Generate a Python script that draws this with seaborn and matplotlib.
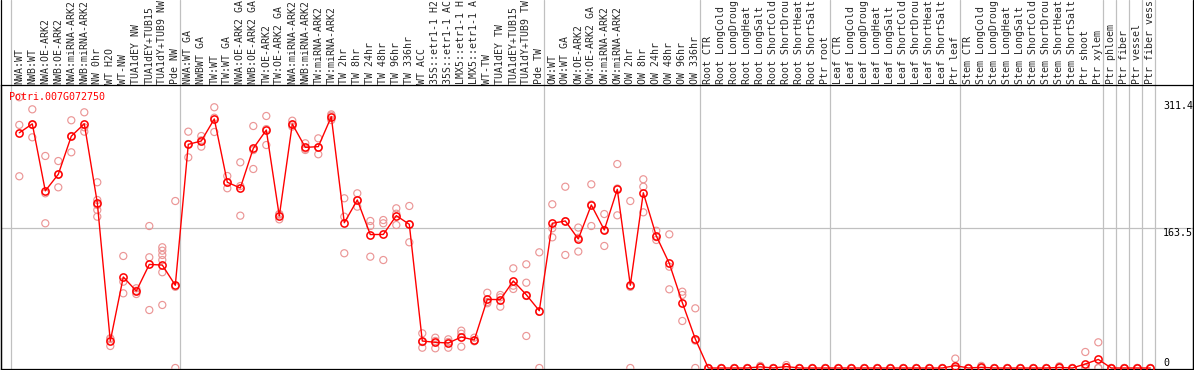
import matplotlib
matplotlib.use("Agg")
import matplotlib.pyplot as plt
import numpy as np
import pandas as pd
import seaborn as sns

# ==========================================================
# DATA
# ==========================================================

gene_id = "Potri.007G072750"

nw_labels = ["NWA:WT", "NWB:WT", "NWA:OE-ARK2", "NWB:OE-ARK2", "NWA:miRNA-ARK2",
             "NWB:miRNA-ARK2", "NW 0hr", "WT H2O", "WT-NW", "TUA1dEY NW",
             "TUA1dEY+TUB15", "TUA1dY+TUB9 NW", "Pde NW"]
tw_labels = ["NWA:WT GA", "NWBWT GA", "TW:WT", "TW:WT GA", "NWA:OE-ARK2 GA",
             "NWB:OE-ARK2 GA", "TW:OE-ARK2", "TW:OE-ARK2 GA", "NWA:miRNA-ARK2",
             "NWB:miRNA-ARK2", "TW:miRNA-ARK2", "TW:miRNA-ARK2", "TW 2hr", "TW 8hr",
             "TW 24hr", "TW 48hr", "TW 96hr", "TW 336hr", "WT ACC", "35S::etr1-1 H2",
             "35S::etr1-1 AC", "LMX5::etr1-1 H", "LMX5::etr1-1 A", "WT-TW",
             "TUA1dEY TW", "TUA1dEY+TUB15", "TUA1dY+TUB9 TW", "Pde TW"]
ow_labels = ["OW:WT", "OW:WT GA", "OW:OE-ARK2", "OW:OE-ARK2 GA", "OW:miRNA-ARK2",
             "OW:miRNA-ARK2", "OW 2hr", "OW 8hr", "OW 24hr", "OW 48hr", "OW 96hr",
             "OW 336hr"]
root_labels = ["Root CTR", "Root LongCold", "Root LongDroug", "Root LongHeat",
               "Root LongSalt", "Root ShortCold", "Root ShortDrou", "Root ShortHeat",
               "Root ShortSalt", "Ptr root"]
leaf_labels = ["Leaf CTR", "Leaf LongCold", "Leaf LongDroug", "Leaf LongHeat",
               "Leaf LongSalt", "Leaf ShortCold", "Leaf ShortDrou", "Leaf ShortHeat",
               "Leaf ShortSalt", "Ptr leaf"]
stem_labels = ["Stem CTR", "Stem LongCold", "Stem LongDroug", "Stem LongHeat",
               "Stem LongSalt", "Stem ShortCold", "Stem ShortDrou", "Stem ShortHeat",
               "Stem ShortSalt", "Ptr shoot", "Ptr xylem"]
ptr_labels = ["Ptr phloem", "Ptr fiber", "Ptr vessel", "Ptr fiber vess"]

nw_reps = [
    [316.2, 283.9, 223.9], [302.1, 283.8, 269.4], [247.6, 204.0, 169.0],
    [241.7, 226.0, 211.0], [289.3, 270.9, 251.9], [298.6, 281.1, 276.0],
    [216.9, 196.2, 190.4, 184.5, 176.7], [34.7, 25.7, 34.0], [130.8, 100.8, 87.2],
    [93.1, 86.4, 90.2], [165.8, 129.3, 67.7],
    [141.0, 137.0, 132.0, 126.1, 111.8, 73.6], [195.0, 0.0, 94.8],
]
tw_reps = [
    [276.0, 246.0, 261.6], [270.9, 258.5, 265.9], [304.5, 275.6, 292.3],
    [224.2, 209.9, 216.6], [240.2, 177.9, 212.5], [282.6, 232.4, 254.5],
    [294.3, 260.4, 279.0], [179.8, 173.6, 179.1], [288.8, 284.0, 282.0],
    [262.4, 254.6, 256.0], [268.2, 249.6, 257.7], [294.7, 289.6, 296.2],
    [198.2, 176.7, 134.0], [204.0, 188.4, 196.2], [171.7, 165.8, 130.0],
    [172.8, 169.0, 126.1], [186.5, 167.0, 180.2], [189.2, 146.8, 167.4],
    [40.5, 23.7, 30.3], [35.4, 23.0, 31.6], [33.5, 23.7, 30.4],
    [43.6, 24.9, 40.0], [35.4, 31.5, 31.2], [87.9, 75.6, 77.1],
    [85.3, 71.6, 82.5], [116.4, 92.3, 96.1], [121.1, 99.6, 84.1, 37.4],
    [135.1, 0.0, 65.6],
]
ow_reps = [
    [152.6, 191.2, 163.2], [211.7, 132.0, 171.4], [164.0, 136.0, 152.0],
    [214.5, 165.8, 190.9], [179.8, 142.5, 161.3], [238.2, 178.3, 209.6],
    [195.0, 0.0, 94.8], [220.4, 211.7, 181.8], [160.3, 149.5, 152.8],
    [156.1, 118.3, 91.9], [89.1, 85.3, 54.9], [69.7, 0.0, 32.0],
]
root_reps = [
    [0, 0, 0], [0, 0, 0], [0, 0, 0], [0, 0, 0], [2.5, 1.0, 0.5],
    [0, 0, 0], [3.5, 1.0, 0.5], [0, 0, 0], [0, 0, 0], [0, 0, 0],
]
leaf_reps = [
    [0, 0, 0], [0, 0, 0], [0, 0, 0], [0, 0, 0], [0, 0, 0],
    [0, 0, 0], [0, 0, 0], [0, 0, 0], [0, 0, 0], [11.0, 0, 0, 0],
]
stem_reps = [
    [0, 0, 0], [2.5, 0, 0], [0, 0, 0], [0, 0, 0], [0, 0, 0], [0, 0, 0],
    [0, 0, 0], [2.0, 0, 0], [0, 0, 0], [18.7, 0, 0, 0], [30.0, 0, 0],
]
ptr_reps = [[0, 0, 0], [0, 0, 0], [0, 0, 0], [0, 0, 0]]

y_ticks = [0, 163.5, 311.4]

# ==========================================================
# LONG TABLE
# ==========================================================

groups = [
    (nw_labels, nw_reps), (tw_labels, tw_reps), (ow_labels, ow_reps),
    (root_labels, root_reps), (leaf_labels, leaf_reps),
    (stem_labels, stem_reps), (ptr_labels, ptr_reps),
]

labels = []
rows = []
group_starts = []
for glabels, greps in groups:
    group_starts.append(len(labels))
    for lab, reps in zip(glabels, greps):
        pos = len(labels)
        labels.append(lab)
        for v in reps:
            rows.append({"pos": pos, "value": v})
# the last ptr samples are each drawn in their own cell
group_starts += [85, 86, 87, len(labels)]

df = pd.DataFrame(rows)

# ==========================================================
# PLOT
# ==========================================================

sns.set_style("white")
plt.rcParams["font.family"] = ["DejaVu Sans Mono"]

W, H = 1194, 370
fig = plt.figure(figsize=(W / 100, H / 100), dpi=100)

# data area: x px 1..1193, y px 85..369
ax = fig.add_axes([1 / W, 1 / H, 1192 / W, 284 / H])

px_per_cat = 13.0
x0_px = 19.3
ax.set_xlim((1 - x0_px) / px_per_cat, (1193 - x0_px) / px_per_cat)
px_per_unit = 0.8563
ax.set_ylim((368 - 369) / px_per_unit, (368 - 85) / px_per_unit)

head = 1 + 85 / 284

for s in group_starts:
    ax.axvline(s - 0.65, ymin=0, ymax=head, color="#c0c0c0", lw=0.9,
               clip_on=False, zorder=0)

ax.axhline(163.5, color="#c0c0c0", lw=0.9, zorder=0)

# black frame lines running through the header
for xe in ax.get_xlim():
    ax.axvline(xe, ymin=0, ymax=head, color="black", lw=0.9, clip_on=False)

sns.scatterplot(
    data=df, x="pos", y="value", ax=ax, marker="o", s=26,
    linewidth=0.85, legend=False, zorder=3
)
ax.collections[-1].set_facecolor("none")
ax.collections[-1].set_edgecolor("#eb9696")

sns.lineplot(
    data=df, x="pos", y="value", ax=ax, estimator="mean", errorbar=None,
    color="#ff0000", lw=1.0, marker="o", markersize=5.2,
    markerfacecolor="none", markeredgecolor="#ff0000", markeredgewidth=1.1,
    zorder=4
)

for sp in ax.spines.values():
    sp.set_color("black")
    sp.set_linewidth(0.9)

ax.set_xticks(range(len(labels)))
ax.set_xticklabels(labels, rotation=90, fontsize=7.1)
ax.tick_params(axis="x", top=True, labeltop=True, bottom=False,
               labelbottom=False, length=0, pad=0.8)
ax.set_yticks([])
ax.set_xlabel("")
ax.set_ylabel("")

for v in y_ticks:
    ax.annotate(
        f"{v:g}", xy=(1, v), xycoords=("axes fraction", "data"),
        xytext=(-21.6, 0), textcoords="offset points",
        ha="left", va="bottom" if v == 0 else "top",
        fontsize=7.2, color="black"
    )

ax.annotate(
    gene_id, xy=(0, 1), xycoords="axes fraction",
    xytext=(6.1, -5), textcoords="offset points",
    ha="left", va="top", fontsize=7.2, color="#ff0000"
)

fig.savefig("out.png", dpi=100)
